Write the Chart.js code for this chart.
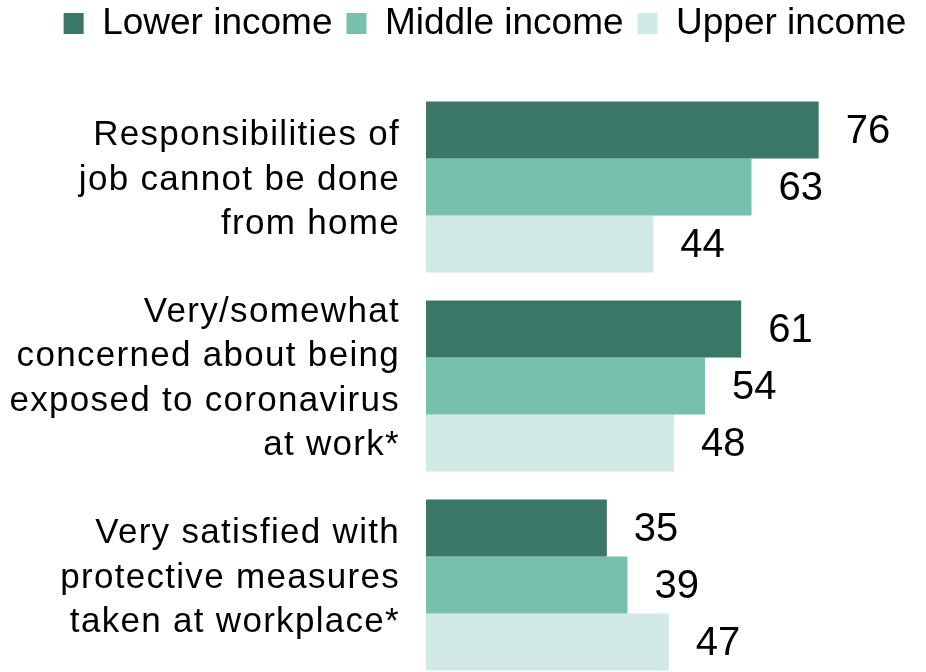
<!DOCTYPE html>
<html>
<head>
<meta charset="utf-8">
<script src="https://cdn.jsdelivr.net/npm/chart.js@4/dist/chart.umd.min.js"></script>
<style>
  html, body { margin: 0; padding: 0; background: #fff; overflow: hidden; }
  #wrap { width: 926px; height: 700px; }
</style>
</head>
<body>
<div id="wrap"><canvas id="inkomenChart"></canvas></div>
<script>
// categorieën (meerdere regels per label)
const categories = [
  ['Responsibilities of', 'job cannot be done', 'from home'],
  ['Very/somewhat', 'concerned about being', 'exposed to coronavirus', 'at work*'],
  ['Very satisfied with', 'protective measures', 'taken at workplace*']
];
const seriesNames  = ['Lower income', 'Middle income', 'Upper income'];
const lowerIncome  = [76, 61, 35];
const middleIncome = [63, 54, 39];
const upperIncome  = [44, 48, 47];

const seriesColors = ['#3a7766', '#78c0ae', '#d2eae5'];
const FONT = "'Liberation Sans', Arial, sans-serif";

Chart.defaults.font.family = FONT;
Chart.defaults.color = '#000';

// labels links van de balken + waarden rechts ervan
const labelPlugin = {
  id: 'labelPlugin',
  afterDatasetsDraw(chart) {
    const ctx = chart.ctx;
    const yScale = chart.scales.y;
    ctx.save();
    ctx.fillStyle = '#000';
    ctx.textBaseline = 'middle';

    // categorie-tekst, rechts uitgelijnd
    ctx.font = '35px ' + FONT;
    ctx.textAlign = 'right';
    ctx.letterSpacing = '1.3px';
    const lineH = 44.5;
    categories.forEach((lines, i) => {
      const mid = yScale.getPixelForValue(i) - 7;
      lines.forEach((txt, j) => {
        ctx.fillText(txt, 400, mid + (j - (lines.length - 1) / 2) * lineH);
      });
    });

    // waarden naast elke balk
    ctx.font = '40px ' + FONT;
    ctx.textAlign = 'left';
    ctx.letterSpacing = '0px';
    chart.data.datasets.forEach((ds, di) => {
      const meta = chart.getDatasetMeta(di);
      meta.data.forEach((bar, i) => {
        ctx.fillText(String(ds.data[i]), bar.x + 27, bar.y + 2);
      });
    });
    ctx.restore();
  }
};

new Chart(document.getElementById('inkomenChart'), {
  type: 'bar',
  data: {
    labels: categories,
    datasets: [
      { label: seriesNames[0], data: lowerIncome,  backgroundColor: seriesColors[0] },
      { label: seriesNames[1], data: middleIncome, backgroundColor: seriesColors[1] },
      { label: seriesNames[2], data: upperIncome,  backgroundColor: seriesColors[2] }
    ]
  },
  options: {
    indexAxis: 'y',
    responsive: true, maintainAspectRatio: false,
    animation: false,
    events: [],
    datasets: { bar: { categoryPercentage: 0.86, barPercentage: 1.0, borderWidth: 0 } },
    layout: { padding: { top: -9, left: 48, right: 4, bottom: 15.5 } },
    plugins: {
      legend: {
        position: 'top',
        labels: { font: { size: 37 }, color: '#000', boxWidth: 20, boxHeight: 21, padding: 14 }
      },
      tooltip: { enabled: false }
    },
    scales: {
      x: {
        position: 'top', min: 0, max: 96,
        ticks: { display: false }, grid: { display: false }, border: { display: false },
        afterFit: s => { s.height = 35.5; }
      },
      y: {
        ticks: { display: false }, grid: { display: false }, border: { display: false },
        afterFit: s => { s.width = 378; }
      }
    }
  },
  plugins: [labelPlugin]
});
</script>
</body>
</html>
